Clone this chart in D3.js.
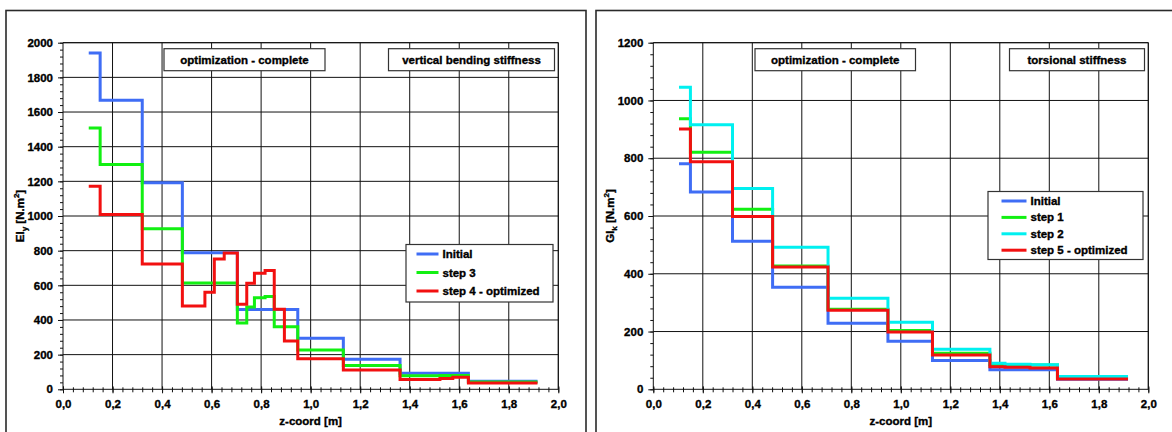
<!DOCTYPE html>
<html>
<head>
<meta charset="utf-8">
<script src="https://cdn.jsdelivr.net/npm/d3@7"></script>
<style>
  html, body { margin: 0; padding: 0; background: #fff; }
  svg { display: block; }
  text { font-family: "Liberation Sans", Arial, sans-serif; font-weight: bold; fill: #000; stroke: #000; stroke-width: 0.35px; }
</style>
</head>
<body>
<svg id="chart" width="1172" height="432"></svg>
<script>
// ---- Vertical bending stiffness EIy along the z-coordinate ----
const bendZ = [0.11, 0.15, 0.32, 0.482, 0.573, 0.611, 0.651, 0.704, 0.742, 0.773, 0.816, 0.853, 0.894, 0.948, 1.132, 1.361, 1.522, 1.574, 1.637, 1.91];
const bendInitial = [1940, 1668, 1192, 788, 788, 788, 788, 461, 461, 461, 461, 461, 461, 294, 174, 93, 93, 93, 46];
const bendStep3   = [1508, 1297, 927, 614, 614, 614, 614, 383, 475, 528, 536, 361, 361, 227, 138, 78, 79, 80, 42];
const bendStep4   = [1172, 1008, 723, 480, 560, 752, 786, 491, 612, 670, 685, 462, 279, 177, 111, 57, 63, 69, 37];
const bendNames   = ["Initial", "step 3", "step 4 - optimized"];
const bendYTicks  = [0, 200, 400, 600, 800, 1000, 1200, 1400, 1600, 1800, 2000];

// ---- Torsional stiffness GIk along the z-coordinate ----
const torsZ = [0.11, 0.15, 0.32, 0.482, 0.706, 0.948, 1.128, 1.36, 1.421, 1.522, 1.633, 1.912];
const torsInitial = [781, 683, 513, 353, 229, 166, 100, 68, 68, 68, 35];
const torsStep1   = [937, 821, 623, 427, 277, 204, 125, 85, 86, 84, 38];
const torsStep2   = [1046, 916, 695, 492, 315, 232, 139, 90, 87, 85, 44];
const torsStep5   = [901, 788, 598, 423, 274, 198, 119, 78, 76, 74, 36];
const torsNames   = ["Initial", "step 1", "step 2", "step 5 - optimized"];
const torsYTicks  = [0, 200, 400, 600, 800, 1000, 1200];

const xTicks = [0, 0.2, 0.4, 0.6, 0.8, 1.0, 1.2, 1.4, 1.6, 1.8, 2.0];

const COLORS = { blue: "#3f6df5", green: "#12f012", cyan: "#00f0f0", red: "#f21010" };
const FS = 11.5;

const svg = d3.select("#chart");
const fmtComma = d => d3.format(".1f")(d).replace(".", ",");

// outer frames of the two panels
svg.append("rect").attr("x", 6).attr("y", 10.5).attr("width", 580).attr("height", 440)
  .attr("fill", "none").attr("stroke", "#2a2a2a").attr("stroke-width", 1.6);
svg.append("rect").attr("x", 596).attr("y", 10.5).attr("width", 600).attr("height", 440)
  .attr("fill", "none").attr("stroke", "#2a2a2a").attr("stroke-width", 1.6);

function drawPanel(cfg) {
  const g = svg.append("g");
  const x = d3.scaleLinear().domain([0, 2]).range([cfg.left, cfg.right]);
  const y = d3.scaleLinear().domain([0, cfg.yMax]).range([cfg.bottom, cfg.top]);

  // grid
  g.append("g").selectAll("line").data(xTicks.slice(1)).join("line")
    .attr("x1", d => x(d)).attr("x2", d => x(d)).attr("y1", cfg.top).attr("y2", cfg.bottom)
    .attr("stroke", "#111").attr("stroke-width", 1);
  g.append("g").selectAll("line").data(cfg.yTicks.slice(1)).join("line")
    .attr("x1", cfg.left).attr("x2", cfg.right).attr("y1", d => y(d)).attr("y2", d => y(d))
    .attr("stroke", "#111").attr("stroke-width", 1);

  // axes with minor ticks
  const xMinor = d3.range(0, 2.0001, 0.04);
  const yMinor = d3.range(0, cfg.yMax + 0.001, cfg.yMax / (cfg.yTicks.length - 1) / 5);
  const gx = g.append("g").attr("transform", `translate(0,${cfg.bottom})`)
    .call(d3.axisBottom(x).tickValues(xMinor).tickSize(3).tickFormat(""));
  gx.selectAll(".tick line").attr("y1", -2).attr("stroke", "#111");
  gx.select(".domain").attr("stroke", "#111").attr("d", `M${cfg.left},0H${cfg.right}`);
  const gxMaj = g.append("g").attr("transform", `translate(0,${cfg.bottom})`)
    .call(d3.axisBottom(x).tickValues(xTicks).tickSize(4).tickPadding(7).tickFormat(fmtComma));
  gxMaj.select(".domain").remove();
  gxMaj.selectAll(".tick line").attr("y1", -3).attr("stroke", "#111");
  gxMaj.selectAll(".tick text").attr("font-size", FS).attr("font-family", null).attr("fill", null);

  const gy = g.append("g").attr("transform", `translate(${cfg.left},0)`)
    .call(d3.axisLeft(y).tickValues(yMinor).tickSize(3).tickFormat(""));
  gy.select(".domain").attr("stroke", "#111").attr("d", `M0,${cfg.bottom}V${cfg.top}`);
  gy.selectAll(".tick line").attr("stroke", "#111");
  const gyMaj = g.append("g").attr("transform", `translate(${cfg.left},0)`)
    .call(d3.axisLeft(y).tickValues(cfg.yTicks).tickSize(5).tickPadding(5).tickFormat(d3.format("d")));
  gyMaj.select(".domain").remove();
  gyMaj.selectAll(".tick line").attr("stroke", "#111");
  gyMaj.selectAll(".tick text").attr("font-size", FS).attr("font-family", null).attr("fill", null);

  // plot frame (top and right edges)
  g.append("path").attr("d", `M${cfg.left},${cfg.top}H${cfg.right}V${cfg.bottom}`)
    .attr("fill", "none").attr("stroke", "#111").attr("stroke-width", 1);

  // stepped series
  const line = d3.line().x(d => x(d[0])).y(d => y(d[1])).curve(d3.curveStepAfter);
  cfg.series.forEach(s => {
    const pts = s.values.map((v, i) => [cfg.z[i], v]);
    pts.push([cfg.z[cfg.z.length - 1], s.values[s.values.length - 1]]);
    g.append("path").datum(pts).attr("d", line)
      .attr("fill", "none").attr("stroke", s.color).attr("stroke-width", 3)
      .attr("stroke-linejoin", "miter").attr("stroke-linecap", "square");
  });

  // caption boxes inside the plot
  cfg.boxes.forEach(b => {
    g.append("rect").attr("x", b.x).attr("y", cfg.top + 6).attr("width", b.w).attr("height", 22)
      .attr("fill", "#fff").attr("stroke", "#333").attr("stroke-width", 1.2);
    g.append("text").attr("x", b.x + b.w / 2).attr("y", cfg.top + 21)
      .attr("text-anchor", "middle").attr("font-size", FS).text(b.text);
  });

  // legend
  const L = cfg.legend;
  g.append("rect").attr("x", L.x).attr("y", L.y).attr("width", L.w).attr("height", L.h)
    .attr("fill", "#fff").attr("stroke", "#333").attr("stroke-width", 1.2);
  cfg.series.forEach((s, i) => {
    const yy = L.y + L.first + i * L.step;
    g.append("line").attr("x1", L.x + L.lineX).attr("x2", L.x + L.lineX + L.lineW)
      .attr("y1", yy).attr("y2", yy).attr("stroke", s.color).attr("stroke-width", 3);
    g.append("text").attr("x", L.x + L.lineX + L.lineW + 4).attr("y", yy + 4)
      .attr("font-size", FS).text(s.name);
  });

  // axis titles
  g.append("text").attr("x", (cfg.left + cfg.right) / 2).attr("y", 425)
    .attr("text-anchor", "middle").attr("font-size", FS).text("z-coord [m]");
  const yt = g.append("text").attr("transform", `translate(${cfg.yTitleX},${(cfg.top + cfg.bottom) / 2}) rotate(-90)`)
    .attr("text-anchor", "middle").attr("font-size", FS);
  yt.append("tspan").text(cfg.yTitle[0]);
  yt.append("tspan").attr("font-size", 8).attr("dy", 3).text(cfg.yTitle[1]);
  yt.append("tspan").attr("dy", -3).text(" [N.m");
  yt.append("tspan").attr("font-size", 8).attr("dy", -5).text("2");
  yt.append("tspan").attr("dy", 5).text("]");
}

drawPanel({
  left: 63, right: 558.3, top: 42.7, bottom: 389.3, yMax: 2000, yTicks: bendYTicks,
  z: bendZ,
  series: [
    { name: bendNames[0], values: bendInitial, color: COLORS.blue },
    { name: bendNames[1], values: bendStep3, color: COLORS.green },
    { name: bendNames[2], values: bendStep4, color: COLORS.red }
  ],
  boxes: [
    { x: 164, w: 161, text: "optimization - complete" },
    { x: 388.5, w: 166, text: "vertical bending stiffness" }
  ],
  legend: { x: 406, y: 244.5, w: 147, h: 57.5, first: 9.5, step: 18.5, lineX: 10.5, lineW: 22 },
  yTitleX: 24, yTitle: ["EI", "y"]
});

drawPanel({
  left: 653.3, right: 1148.3, top: 42.7, bottom: 389.3, yMax: 1200, yTicks: torsYTicks,
  z: torsZ,
  series: [
    { name: torsNames[0], values: torsInitial, color: COLORS.blue },
    { name: torsNames[1], values: torsStep1, color: COLORS.green },
    { name: torsNames[2], values: torsStep2, color: COLORS.cyan },
    { name: torsNames[3], values: torsStep5, color: COLORS.red }
  ],
  boxes: [
    { x: 755, w: 160.5, text: "optimization - complete" },
    { x: 1009.5, w: 135, text: "torsional stiffness" }
  ],
  legend: { x: 988, y: 191.5, w: 155, h: 68, first: 9.5, step: 16.4, lineX: 13.5, lineW: 25 },
  yTitleX: 614, yTitle: ["GI", "k"]
});
</script>
</body>
</html>
